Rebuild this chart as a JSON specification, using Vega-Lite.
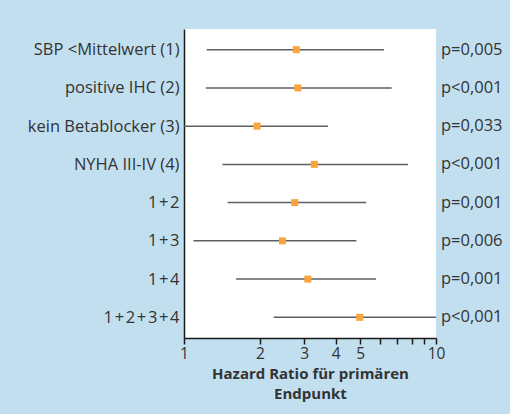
{
  "$schema": "https://vega.github.io/schema/vega-lite/v6.json",
  "autosize": {"type": "none"},
  "width": 252,
  "height": 309,
  "padding": {"left": 184, "top": 29, "right": 74, "bottom": 76},
  "background": "#c2dff0",
  "config": {
    "view": {"fill": "#ffffff", "stroke": null},
    "font": "Open Sans"
  },
  "data": {
    "values": [
      {"group": "SBP <Mittelwert (1)", "hr": 2.79, "lo": 1.23, "hi": 6.22, "p": "p=0,005"},
      {"group": "positive IHC (2)", "hr": 2.83, "lo": 1.22, "hi": 6.67, "p": "p<0,001"},
      {"group": "kein Betablocker (3)", "hr": 1.95, "lo": 1.0, "hi": 3.73, "p": "p=0,033"},
      {"group": "NYHA III-IV (4)", "hr": 3.29, "lo": 1.42, "hi": 7.75, "p": "p<0,001"},
      {"group": "1\u200a+\u200a2", "hr": 2.75, "lo": 1.49, "hi": 5.29, "p": "p=0,001"},
      {"group": "1\u200a+\u200a3", "hr": 2.46, "lo": 1.09, "hi": 4.83, "p": "p=0,006"},
      {"group": "1\u200a+\u200a4", "hr": 3.1, "lo": 1.61, "hi": 5.78, "p": "p=0,001"},
      {"group": "1\u200a+\u200a2\u200a+\u200a3\u200a+\u200a4", "hr": 4.98, "lo": 2.27, "hi": 10.5, "p": "p<0,001"}
    ]
  },
  "encoding": {
    "y": {
      "field": "group",
      "type": "nominal",
      "sort": null,
      "scale": {"type": "point", "padding": 0.54},
      "axis": {
        "title": null,
        "ticks": false,
        "grid": false,
        "domainColor": "#1a1a1a",
        "domainWidth": 1.5,
        "labelFont": "Open Sans",
        "labelFontSize": 16.5,
        "labelColor": "#333333",
        "labelPadding": 5,
        "labelLimit": 300
      }
    }
  },
  "layer": [
    {
      "mark": {"type": "rule", "color": "#5f5f5f", "strokeWidth": 1.5, "clip": true},
      "encoding": {
        "x": {
          "field": "lo",
          "type": "quantitative",
          "scale": {"type": "log", "domain": [1, 10], "nice": false},
          "axis": {
            "values": [1, 2, 3, 4, 5, 6, 7, 8, 9, 10],
            "labelExpr": "datum.value <= 5 || datum.value == 10 ? datum.value : ''",
            "grid": false,
            "domainColor": "#1a1a1a",
            "domainWidth": 1.5,
            "tickColor": "#1a1a1a",
            "tickWidth": 1.5,
            "tickSize": 6,
            "labelFont": "Open Sans",
            "labelFontSize": 15.5,
            "labelColor": "#333333",
            "labelPadding": 2,
            "labelFlush": false,
            "title": ["Hazard Ratio für primären", "Endpunkt"],
            "titleFont": "Open Sans",
            "titleFontSize": 15,
            "titleFontWeight": "bold",
            "titleColor": "#333333",
            "titlePadding": 5,
            "titleLineHeight": 20
          }
        },
        "x2": {"field": "hi"}
      }
    },
    {
      "mark": {"type": "square", "color": "#f9a53c", "opacity": 1, "size": 49},
      "encoding": {
        "x": {"field": "hr", "type": "quantitative"}
      }
    },
    {
      "mark": {"type": "text", "align": "left", "baseline": "middle", "dx": 5, "fontSize": 16.5, "color": "#333333", "font": "Open Sans"},
      "encoding": {
        "x": {"datum": 10, "type": "quantitative"},
        "text": {"field": "p"}
      }
    }
  ]
}
